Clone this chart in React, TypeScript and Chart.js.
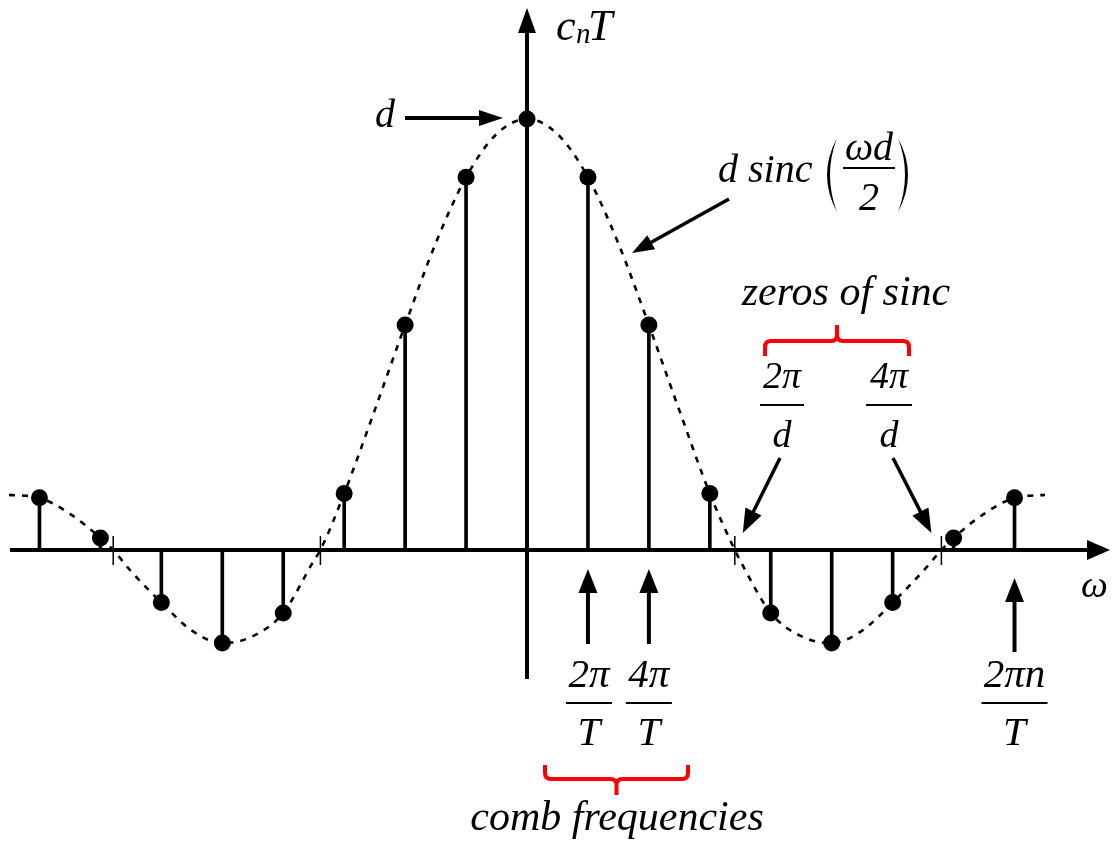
import { useEffect, useRef } from "react";
import { Chart, registerables } from "chart.js";

Chart.register(...registerables);

// Harmonic index n and the Fourier coefficients c_n·T (in units of d)
const harmonics = [-8, -7, -6, -5, -4, -3, -2, -1, 0, 1, 2, 3, 4, 5, 6, 7, 8];
const coefficients = [
  0.121, 0.028, -0.122, -0.216, -0.146, 0.131, 0.522, 0.865, 1, 0.865, 0.522, 0.131, -0.146, -0.216,
  -0.122, 0.028, 0.121,
];

// Continuous envelope d·sinc(ωd/2), sampled in units of the comb spacing
const envelopeN = [
  -8.5, -8, -7.5, -7, -6.79, -6.5, -6, -5.5, -5, -4.5, -4, -3.5, -3.39, -3, -2.5, -2, -1.5, -1, -0.5, 0,
  0.5, 1, 1.5, 2, 2.5, 3, 3.41, 3.5, 4, 4.5, 5, 5.5, 6, 6.5, 6.8, 7, 7.5, 8, 8.5,
];
const envelopeValues = [
  0.128, 0.121, 0.084, 0.028, 0, -0.049, -0.122, -0.187, -0.216, -0.2, -0.146, -0.025, 0, 0.131, 0.324,
  0.522, 0.711, 0.865, 0.965, 1, 0.965, 0.865, 0.711, 0.522, 0.324, 0.131, 0, -0.025, -0.146, -0.2,
  -0.216, -0.187, -0.122, -0.049, 0, 0.028, 0.084, 0.121, 0.128,
];

// Zeros of the sinc envelope (2π/d, 4π/d and their mirrors)
const sincZeros = [-6.79, -3.39, 3.41, 6.8];

// Harmonics pointed out as comb frequencies
const combMarks = [1, 2];
const generalMark = 8;

const SERIF = '"Liberation Serif", "Times New Roman", serif';
const RED = "#ff0000";

type Ctx = CanvasRenderingContext2D;

function arrow(ctx: Ctx, x1: number, y1: number, x2: number, y2: number, w: number, headLen: number, headHalf: number) {
  const a = Math.atan2(y2 - y1, x2 - x1);
  const c = Math.cos(a);
  const s = Math.sin(a);
  const bx = x2 - headLen * c;
  const by = y2 - headLen * s;
  ctx.lineWidth = w;
  ctx.beginPath();
  ctx.moveTo(x1, y1);
  ctx.lineTo(bx + c * 2, by + s * 2);
  ctx.stroke();
  ctx.beginPath();
  ctx.moveTo(x2, y2);
  ctx.lineTo(bx - headHalf * s, by + headHalf * c);
  ctx.lineTo(bx + headHalf * s, by - headHalf * c);
  ctx.closePath();
  ctx.fill();
}

// Horizontal curly brace: ends bend by endDy, centre tip goes by tipDy
function brace(ctx: Ctx, x1: number, x2: number, y: number, endDy: number, tipDy: number) {
  const r = 6;
  const xc = (x1 + x2) / 2;
  const es = Math.sign(endDy);
  const ts = Math.sign(tipDy);
  ctx.beginPath();
  ctx.moveTo(x1, y + endDy);
  ctx.lineTo(x1, y + es * r);
  ctx.quadraticCurveTo(x1, y, x1 + r, y);
  ctx.lineTo(xc - r, y);
  ctx.quadraticCurveTo(xc, y, xc, y + ts * r);
  ctx.lineTo(xc, y + tipDy);
  ctx.moveTo(xc, y + ts * r);
  ctx.quadraticCurveTo(xc, y, xc + r, y);
  ctx.lineTo(x2 - r, y);
  ctx.quadraticCurveTo(x2, y, x2, y + es * r);
  ctx.lineTo(x2, y + endDy);
  ctx.stroke();
}

// Tall thin parenthesis as a crescent; dir -1 opens right "(", +1 opens left ")"
function paren(ctx: Ctx, xEnd: number, top: number, bottom: number, bulge: number, dir: number) {
  const mid = (top + bottom) / 2;
  ctx.beginPath();
  ctx.moveTo(xEnd, top);
  ctx.quadraticCurveTo(xEnd + dir * 2 * bulge, mid, xEnd, bottom);
  ctx.quadraticCurveTo(xEnd + dir * 2 * (bulge - 3), mid, xEnd, top);
  ctx.closePath();
  ctx.fill();
}

function fraction(
  ctx: Ctx,
  cx: number,
  num: string,
  den: string,
  numBase: number,
  lineY: number,
  denBase: number,
  halfW: number,
  size: number
) {
  ctx.font = `italic ${size}px ${SERIF}`;
  ctx.textAlign = "center";
  ctx.fillText(num, cx, numBase);
  ctx.fillText(den, cx, denBase);
  ctx.lineWidth = 2;
  ctx.beginPath();
  ctx.moveTo(cx - halfW, lineY);
  ctx.lineTo(cx + halfW, lineY);
  ctx.stroke();
}

const axesPlugin = {
  id: "arrowAxes",
  beforeDatasetsDraw(chart: Chart) {
    const ctx = chart.ctx;
    const xs = chart.scales.x;
    const ys = chart.scales.y;
    const x0 = xs.getPixelForValue(0);
    const y0 = ys.getPixelForValue(0);
    ctx.save();
    ctx.strokeStyle = "#000";
    ctx.fillStyle = "#000";
    ctx.lineCap = "butt";
    // ω axis
    arrow(ctx, 10, y0, 1110, y0, 4, 23, 10);
    // c_nT axis
    arrow(ctx, x0, 679, x0, 8, 4, 25, 9);
    // small marks where the envelope crosses zero
    ctx.lineWidth = 1.5;
    sincZeros.forEach((z) => {
      const px = xs.getPixelForValue(z);
      ctx.beginPath();
      ctx.moveTo(px, y0 - 14);
      ctx.lineTo(px, y0 + 15);
      ctx.stroke();
    });
    ctx.restore();
  },
};

const notesPlugin = {
  id: "notes",
  afterDraw(chart: Chart) {
    const ctx = chart.ctx;
    const xs = chart.scales.x;
    const ys = chart.scales.y;
    const x0 = xs.getPixelForValue(0);
    const y0 = ys.getPixelForValue(0);
    const yPeak = ys.getPixelForValue(1);
    ctx.save();
    ctx.fillStyle = "#000";
    ctx.strokeStyle = "#000";
    ctx.textBaseline = "alphabetic";

    // axis names
    ctx.textAlign = "left";
    ctx.font = `italic 44px ${SERIF}`;
    ctx.fillText("c", 556, 40);
    ctx.font = `italic 29px ${SERIF}`;
    ctx.fillText("n", 576, 43);
    ctx.font = `italic 44px ${SERIF}`;
    ctx.fillText("T", 588, 40);
    ctx.font = `italic 38px ${SERIF}`;
    ctx.fillText("ω", 1081, 597);

    // peak height d
    ctx.font = `italic 40px ${SERIF}`;
    ctx.textAlign = "right";
    ctx.fillText("d", 395, 127);
    arrow(ctx, 405, yPeak - 1, x0 - 24, yPeak - 1, 4, 24, 8);

    // envelope label d sinc(ωd/2)
    ctx.font = `italic 40px ${SERIF}`;
    ctx.textAlign = "left";
    ctx.fillText("d sinc", 718, 182);
    paren(ctx, 837, 138, 212, 10, -1);
    paren(ctx, 898, 138, 212, 10, 1);
    fraction(ctx, 869, "ωd", "2", 160, 168, 210, 26, 40);
    arrow(ctx, 729, 199, 632, 253, 3.5, 22, 8);

    // zeros of sinc
    ctx.font = `italic 42px ${SERIF}`;
    ctx.textAlign = "center";
    ctx.fillText("zeros of sinc", 846, 305);
    ctx.strokeStyle = RED;
    ctx.lineWidth = 4;
    brace(ctx, 765, 909, 341, 15, -16);
    ctx.strokeStyle = "#000";
    fraction(ctx, 782, "2π", "d", 388, 405, 447, 22, 38);
    fraction(ctx, 889, "4π", "d", 388, 405, 447, 23, 38);
    const z1 = xs.getPixelForValue(sincZeros[2]);
    const z2 = xs.getPixelForValue(sincZeros[3]);
    arrow(ctx, 780, 458, z1 + 8, y0 - 17, 3.5, 24, 9);
    arrow(ctx, 893, 458, z2 - 10, y0 - 17, 3.5, 24, 9);

    // comb frequencies
    combMarks.forEach((n) => {
      const px = xs.getPixelForValue(n);
      arrow(ctx, px, 644, px, 569, 4, 24, 9.5);
    });
    const c1 = xs.getPixelForValue(combMarks[0]);
    const c2 = xs.getPixelForValue(combMarks[1]);
    fraction(ctx, c1 + 1, "2π", "T", 687, 703, 745, 23, 41);
    fraction(ctx, c2, "4π", "T", 687, 703, 745, 23, 41);
    const gx = xs.getPixelForValue(generalMark);
    arrow(ctx, gx, 652, gx, 578, 4, 24, 9.5);
    fraction(ctx, gx, "2πn", "T", 687, 703, 745, 33, 41);

    ctx.strokeStyle = RED;
    ctx.lineWidth = 4;
    brace(ctx, 545, 688, 779, -14, 16);
    ctx.fillStyle = "#000";
    ctx.font = `italic 42px ${SERIF}`;
    ctx.textAlign = "center";
    ctx.fillText("comb frequencies", 617, 830);
    ctx.restore();
  },
};

export default function App() {
  const ref = useRef<HTMLCanvasElement>(null);

  useEffect(() => {
    const canvas = ref.current;
    if (!canvas) return;
    const stems = harmonics.map((n, i) => ({ x: n, y: coefficients[i] }));
    const envelope = envelopeN.map((n, i) => ({ x: n, y: envelopeValues[i] }));
    // pixel scale: 60.94 px per harmonic, origin at (527, 550), 431 px per unit of d
    const chart = new Chart(canvas, {
      type: "scatter",
      data: {
        datasets: [
          {
            type: "scatter",
            data: stems,
            pointRadius: 8.5,
            pointHoverRadius: 8.5,
            backgroundColor: "#000",
            borderWidth: 0,
            order: 0,
          },
          {
            type: "bar",
            data: stems,
            backgroundColor: "#000",
            barThickness: 3,
            order: 1,
          },
          {
            type: "line",
            data: envelope,
            borderColor: "#000",
            borderWidth: 2.6,
            borderDash: [6, 7],
            pointRadius: 0,
            cubicInterpolationMode: "monotone",
            fill: false,
            order: 2,
          },
        ],
      } as any,
      options: {
        animation: false,
        responsive: false,
        events: [],
        layout: { padding: 0, autoPadding: false },
        plugins: { legend: { display: false }, tooltip: { enabled: false } },
        scales: {
          x: { type: "linear", min: -527 / 60.94, max: (1114 - 527) / 60.94, display: false, offset: false },
          y: { type: "linear", min: -(845 - 550) / 431, max: 550 / 431, display: false },
        },
      },
      plugins: [axesPlugin, notesPlugin],
    });
    return () => chart.destroy();
  }, []);

  return (
    <div style={{ position: "fixed", left: 0, top: 0, width: 1114, height: 845, background: "#fff" }}>
      <canvas ref={ref} width={1114} height={845} style={{ display: "block" }} />
    </div>
  );
}
